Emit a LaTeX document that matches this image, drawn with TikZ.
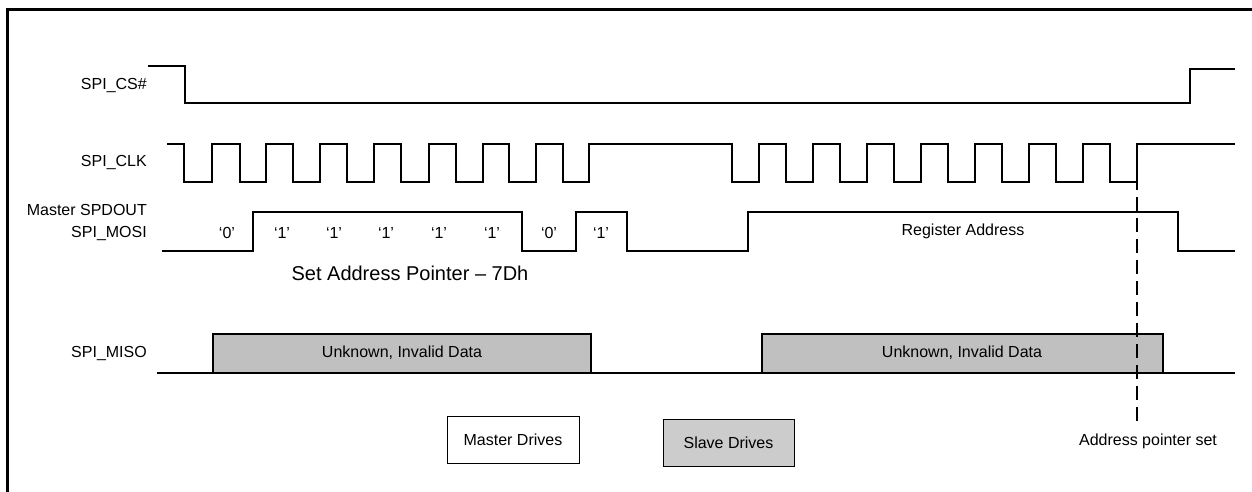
\documentclass[tikz,border=0pt]{standalone}
\usepackage{fontspec}
\setmainfont{Liberation Sans}
\definecolor{misogray}{RGB}{192,192,192}
\definecolor{slavegray}{RGB}{204,204,204}
\begin{document}
\begin{tikzpicture}[x=1pt,y=-1pt,
  sig/.style={line width=1.5pt,line join=miter},
  lbl/.style={font=\fontsize{16}{19}\selectfont, inner sep=0pt},
  bigl/.style={font=\fontsize{20}{24}\selectfont, inner sep=0pt},
  databox/.style={sig, fill=misogray},
  legbox/.style={draw, line width=1pt, font=\fontsize{16}{19}\selectfont, minimum width=132pt, minimum height=47pt, inner sep=0pt},
  marker/.style={line width=2pt, dash pattern=on 14pt off 7pt}]
\useasboundingbox (0,0) rectangle (1252,491);
% frame
\draw[line width=3pt] (7,500) -- (7,9) -- (1260,9);
% labels
\node[lbl, anchor=east] (lcs) at (147,85) {SPI\_CS\#};
\node[lbl, anchor=east] (lclk) at (147,162) {SPI\_CLK};
\node[lbl, anchor=east] (lmas) at (147,210) {Master SPDOUT};
\node[lbl, anchor=east] (lmosi) at (147,233) {SPI\_MOSI};
\node[lbl, anchor=east] (lmiso) at (147,353) {SPI\_MISO};
% CS
\draw[sig] (148,66) -| (185,103) -| (1190,69) -- (1235,69);
% CLK
\draw[sig] (167,144) -| (184,182) -| (212,144) -| (240,182) -| (266,144) -| (293,182)
  -| (320,144) -| (347,182) -| (374,144) -| (401,182) -| (429,144) -| (456,182)
  -| (483,144) -| (509,182) -| (536,144) -| (563,182) -| (589,144) -| (732,182)
  -| (759,144) -| (786,182) -| (813,144) -| (840,182) -| (867,144) -| (894,182)
  -| (921,144) -| (948,182) -| (975,144) -| (1002,182) -| (1029,144) -| (1056,182)
  -| (1083,144) -| (1110,182) -| (1137,144) -- (1235,144);
% MOSI
\draw[sig] (162,251) -| (253,212) -| (522,251) -| (576,212) -| (627,251) -| (748,212) -| (1178,251) -- (1235,251);
\foreach \x/\t [count=\i] in {227/‘0’,282/‘1’,334/‘1’,386/‘1’,439/‘1’,492/‘1’,549/‘0’,601/‘1’}
  \node[lbl] (b\i) at (\x,233) {\t};
\node[lbl] (regaddr) at (963,231) {Register Address};
\node[bigl] (setptr) at (410,273) {Set Address Pointer – 7Dh};
% MISO
\draw[sig] (157,373) -- (1235,373);
\filldraw[databox] (213,373) rectangle (591,334);
\filldraw[databox] (762,373) rectangle (1163,334);
\node[lbl] (unk1) at (402,353) {Unknown, Invalid Data};
\node[lbl] (unk2) at (962,353) {Unknown, Invalid Data};
% marker
\coordinate (mtop) at (1137,155);
\coordinate (mbot) at (1137,422);
\draw[marker] (mtop) -- (mbot);
\node[lbl] (aps) at (1148,441) {Address pointer set};
% legend
\node[legbox] (master) at (513,439.5) {Master Drives};
\node[legbox, fill=slavegray, minimum width=131pt] (slave) at (728.5,442.5) {Slave Drives};
\end{tikzpicture}
\end{document}
